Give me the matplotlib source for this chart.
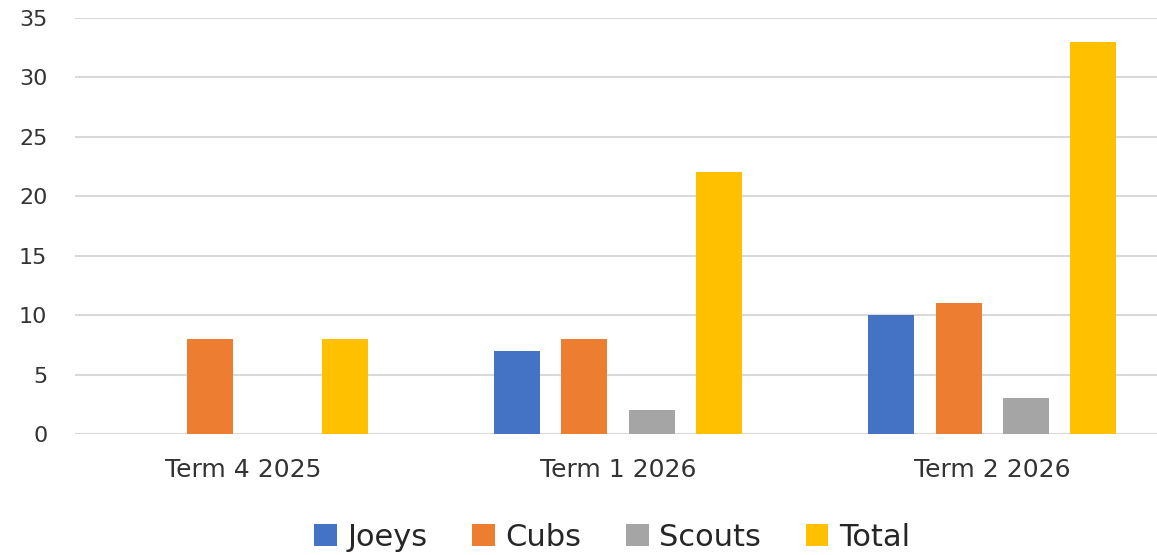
import numpy as np
import matplotlib.pyplot as plt

plt.rcParams['font.family'] = ['DejaVu Sans']

# Данные
terms = ['Term 4 2025', 'Term 1 2026', 'Term 2 2026']
joeys = [0, 7, 10]
cubs = [8, 8, 11]
scouts = [0, 2, 3]
total = [8, 22, 33]

series = [('Joeys', joeys, '#4472C4'),
          ('Cubs', cubs, '#ED7D31'),
          ('Scouts', scouts, '#A5A5A5'),
          ('Total', total, '#FFC000')]

fig = plt.figure(figsize=(11.57, 5.55), dpi=100)
ax = fig.add_axes([0.065, 0.218, 0.935, 0.75])

x = np.arange(len(terms))
width = 0.123
step = 0.18
for i, (name, vals, color) in enumerate(series):
    ax.bar(x + (i - 1.5) * step, vals, width, color=color, label=name, zorder=3)

ax.set_ylim(0, 35)
ax.set_xlim(-0.45, 2.44)
ax.set_yticks(np.arange(0, 36, 5))
ax.set_xticks(x)
ax.set_xticklabels(terms)

ax.grid(axis='y', color='#d9d9d9', linewidth=1.5, zorder=0)
for s in ax.spines.values():
    s.set_visible(False)
ax.tick_params(axis='both', length=0, colors='#333333')
ax.tick_params(axis='y', pad=20, labelsize=16)
ax.tick_params(axis='x', pad=17, labelsize=18)

leg = fig.legend(loc='center', bbox_to_anchor=(0.529, 0.032), ncol=4, frameon=False,
                 fontsize=22, handlelength=0.75, handleheight=0.75,
                 handletextpad=0.35, columnspacing=1.45)
for t in leg.get_texts():
    t.set_color('#262626')

fig.savefig('out.png', dpi=100, facecolor='white')
